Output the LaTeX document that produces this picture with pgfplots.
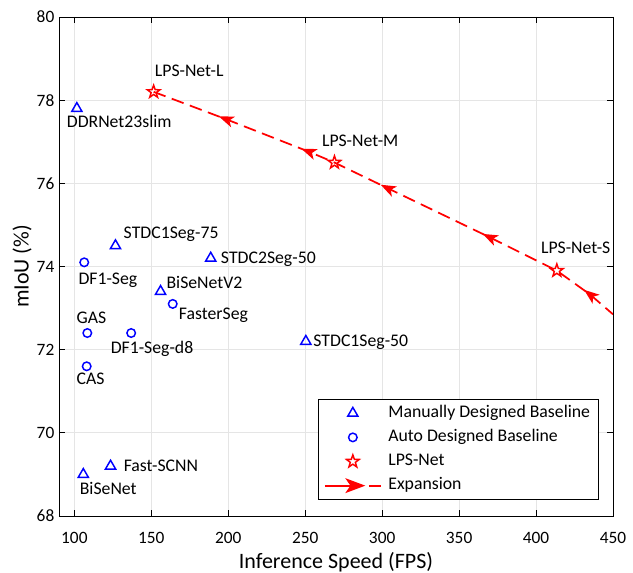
\documentclass[border=0pt]{standalone}
\usepackage{fontspec}
\setmainfont{Carlito}
\usepackage{pgfplots}
\pgfplotsset{compat=1.18}

% five-pointed outline star (MATLAB pentagram)
\pgfdeclareplotmark{pentastar}{%
  \pgfpathmoveto{\pgfpointpolar{90}{\pgfplotmarksize}}%
  \pgfpathlineto{\pgfpointpolar{126}{0.4\pgfplotmarksize}}%
  \pgfpathlineto{\pgfpointpolar{162}{\pgfplotmarksize}}%
  \pgfpathlineto{\pgfpointpolar{198}{0.4\pgfplotmarksize}}%
  \pgfpathlineto{\pgfpointpolar{234}{\pgfplotmarksize}}%
  \pgfpathlineto{\pgfpointpolar{270}{0.4\pgfplotmarksize}}%
  \pgfpathlineto{\pgfpointpolar{306}{\pgfplotmarksize}}%
  \pgfpathlineto{\pgfpointpolar{342}{0.4\pgfplotmarksize}}%
  \pgfpathlineto{\pgfpointpolar{18}{\pgfplotmarksize}}%
  \pgfpathlineto{\pgfpointpolar{54}{0.4\pgfplotmarksize}}%
  \pgfpathclose\pgfusepathqstroke}

% arrow head pointing left, centred on the point
\pgfdeclareplotmark{arrowhead}{%
  \pgfpathmoveto{\pgfqpoint{-6pt}{0pt}}%
  \pgfpathlineto{\pgfqpoint{5.5pt}{4.3pt}}%
  \pgfpathlineto{\pgfqpoint{2.5pt}{0pt}}%
  \pgfpathlineto{\pgfqpoint{5.5pt}{-4.3pt}}%
  \pgfpathclose\pgfusepathqfill}

\newcommand{\lblfont}{\fontsize{13.3}{16}\selectfont}
\newcommand{\lbl}[4]{\node[anchor=base west,font=\lblfont,inner sep=0pt,xshift=#3,yshift=#4] at (axis cs:#1) {#2};}
\newcommand{\arr}[2]{\addplot[forget plot, only marks, red, mark=arrowhead, mark options={solid, rotate=#2}] coordinates {(#1)};}

\begin{document}
\begin{tikzpicture}
\path[use as bounding box] (-44.25pt,-42.75pt) rectangle (430.5pt,387pt);
\begin{axis}[
    scale only axis,
    width=415.5pt, height=374.25pt,
    xmin=90, xmax=450, ymin=68, ymax=80,
    xtick={100,150,...,450}, ytick={68,70,...,80},
    grid=major,
    major grid style={black!10, line width=0.6pt},
    axis line style={line width=0.6pt},
    tick style={black, line width=0.6pt},
    major tick length=4.5pt,
    tick label style={font=\fontsize{13}{15}\selectfont},
    xticklabel style={yshift=-8.5pt},
    label style={font=\fontsize{16.5}{19}\selectfont},
    ylabel shift=-3pt,
    /pgf/number format/assume math mode=true,
    xlabel={Inference Speed (FPS)},
    ylabel={mIoU (\%)},
    legend style={at={(1,0)}, anchor=south east, xshift=-11pt, yshift=12pt,
        draw=black, font=\lblfont, inner xsep=4pt, inner ysep=1.5pt, column sep=3pt,
        nodes={text height=9.6pt, text depth=3.3pt, inner ysep=2.6pt}},
    legend cell align=left,
    legend image code/.code={\draw[mark repeat=2,mark phase=2,#1] plot coordinates {(0pt,0pt)(21pt,0pt)(42pt,0pt)};},
]

% manually designed baselines
\addplot[only marks, blue, mark=triangle, mark size=4.4pt, mark options={solid, line width=1.1pt}] coordinates {
    (101.6,77.8) (126.7,74.5) (188.6,74.2) (156,73.4) (250.4,72.2) (123.5,69.2) (105.8,69.0)
};
\addlegendentry{Manually Designed Baseline}

% auto designed baselines
\addplot[only marks, blue, mark=o, mark size=3.2pt, mark options={solid, line width=1.1pt}] coordinates {
    (106.4,74.1) (163.9,73.1) (108.4,72.4) (136.9,72.4) (108,71.6)
};
\addlegendentry{Auto Designed Baseline}

% LPS-Net
\addplot[only marks, red, mark=pentastar, mark size=5pt, mark options={solid, line width=1.1pt}] coordinates {
    (151.5,78.2) (269,76.5) (413.5,73.9)
};
\addlegendentry{LPS-Net}

% expansion path
\addplot[forget plot, red, no markers, line width=1.3pt, dash pattern=on 9.5pt off 5pt] coordinates {
    (151.5,78.2) (198.7,77.54) (252.4,76.76) (269,76.5) (303.7,75.88)
    (370,74.7) (413.5,73.9) (435.3,73.32) (450,72.85)
};
\arr{198.7,77.54}{-21}
\arr{252.4,76.76}{-21.5}
\arr{303.7,75.88}{-26.5}
\arr{370,74.7}{-25.7}
\arr{435.3,73.32}{-38}

\addlegendimage{red, legend image code/.code={
        \pgfsetlinewidth{1.3pt}
        \draw[red] (0pt,0pt) -- (22pt,0pt);
        \fill[red] (28.5pt,0pt) -- (17pt,4.3pt) -- (20pt,0pt) -- (17pt,-4.3pt) -- cycle;
        \draw[red] (33pt,0pt) -- (42pt,0pt);}}
\addlegendentry{Expansion}

\lbl{101.6,77.8}{DDRNet23slim}{-7.7pt}{-14.6pt}
\lbl{151.5,78.2}{LPS-Net-L}{0.75pt}{11.25pt}
\lbl{269,76.5}{LPS-Net-M}{-9.5pt}{12pt}
\lbl{413.5,73.9}{LPS-Net-S}{-12pt}{12.5pt}
\lbl{126.7,74.5}{STDC1Seg-75}{6pt}{5.25pt}
\lbl{188.6,74.2}{STDC2Seg-50}{7.5pt}{-3.75pt}
\lbl{106.4,74.1}{DF1-Seg}{-4.5pt}{-17pt}
\lbl{156,73.4}{BiSeNetV2}{4.3pt}{2.5pt}
\lbl{163.9,73.1}{FasterSeg}{4.5pt}{-12pt}
\lbl{108.4,72.4}{GAS}{-8.25pt}{7pt}
\lbl{136.9,72.4}{DF1-Seg-d8}{-15.5pt}{-15pt}
\lbl{250.4,72.2}{STDC1Seg-50}{5.5pt}{-3.75pt}
\lbl{108,71.6}{CAS}{-7.7pt}{-13.5pt}
\lbl{123.5,69.2}{Fast-SCNN}{9.75pt}{-3.75pt}
\lbl{105.8,69.0}{BiSeNet}{-2.8pt}{-14.7pt}
\end{axis}
\end{tikzpicture}
\end{document}
